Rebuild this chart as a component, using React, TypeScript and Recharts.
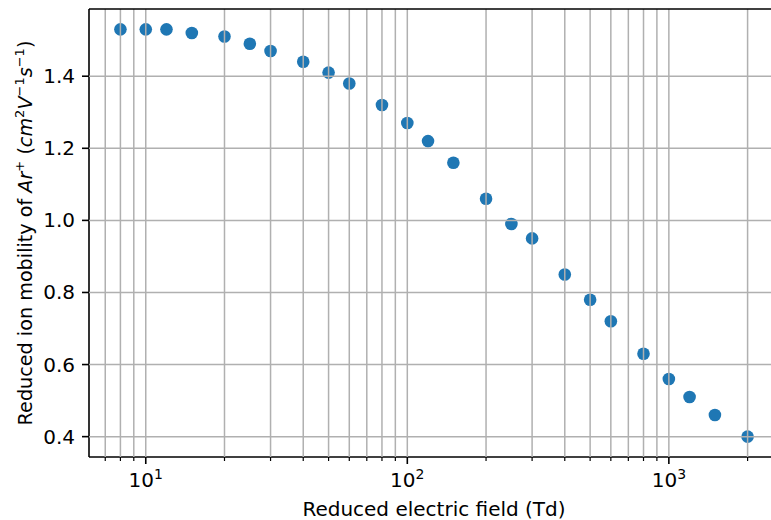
import React from 'react';
import { ScatterChart, Scatter, XAxis, YAxis, ReferenceLine } from 'recharts';

const fieldTd = [8, 10, 12, 15, 20, 25, 30, 40, 50, 60, 80, 100, 120, 150, 200, 250, 300, 400, 500, 600, 800, 1000, 1200, 1500, 2000];
const mobility = [1.53, 1.53, 1.53, 1.52, 1.51, 1.49, 1.47, 1.44, 1.41, 1.38, 1.32, 1.27, 1.22, 1.16, 1.06, 0.99, 0.95, 0.85, 0.78, 0.72, 0.63, 0.56, 0.51, 0.46, 0.4];

const xMajorTicks = [10, 100, 1000];
const xMinorTicks = [7, 8, 9, 20, 30, 40, 50, 60, 70, 80, 90, 200, 300, 400, 500, 600, 700, 800, 900, 2000];
const yTicks = [0.4, 0.6, 0.8, 1.0, 1.2, 1.4];
const xDomain = [6.067, 2637];
const yDomain = [0.3435, 1.5865];

const xLabel = 'Reduced electric field (Td)';

const points = fieldTd.map((x, i) => ({ x, y: mobility[i] }));
const xTicks = [...xMajorTicks, ...xMinorTicks].sort((a, b) => a - b);

const FONT = '"DejaVu Sans", sans-serif';
const GRID = '#b0b0b0';

function XTick(props: any) {
  const { x, y, payload } = props;
  const v = payload.value;
  const major = xMajorTicks.includes(v);
  const exp = Math.round(Math.log10(v));
  return (
    <g>
      <line x1={x} x2={x} y1={y} y2={y + (major ? 7 : 4)} stroke="#000" strokeWidth={major ? 1.6 : 1.2} />
      {major && (
        <text x={x} y={y + 30} textAnchor="middle" fontFamily={FONT} fontSize={20} fill="#000">
          <tspan>10</tspan>
          <tspan dy={-8} fontSize={14}>{exp}</tspan>
        </text>
      )}
    </g>
  );
}

function YTick(props: any) {
  const { x, y, payload } = props;
  return (
    <g>
      <line x1={x - 7} x2={x} y1={y} y2={y} stroke="#000" strokeWidth={1.6} />
      <text x={x - 14} y={y + 7} textAnchor="end" fontFamily={FONT} fontSize={20} fill="#000">
        {Number(payload.value).toFixed(1)}
      </text>
    </g>
  );
}

function XLabel(props: any) {
  const vb = props.viewBox || { x: 89, width: 690, y: 457 };
  return (
    <text x={vb.x + vb.width / 2} y={516} textAnchor="middle" fontFamily={FONT} fontSize={20} fill="#000">
      {xLabel}
    </text>
  );
}

function YLabel(props: any) {
  const vb = props.viewBox || { y: 9, height: 448 };
  const cx = 32;
  const cy = vb.y + vb.height / 2;
  return (
    <text x={cx} y={cy} transform={`rotate(-90 ${cx} ${cy})`} textAnchor="middle" fontFamily={FONT} fontSize={19.2} fill="#000">
      <tspan>Reduced ion mobility of </tspan>
      <tspan fontStyle="italic">Ar</tspan>
      <tspan fontSize={13} dy={-8}>+</tspan>
      <tspan dy={8}>{'\u00a0('}</tspan>
      <tspan fontStyle="italic">cm</tspan>
      <tspan fontSize={13} dy={-8}>2</tspan>
      <tspan fontStyle="italic" dy={8}>V</tspan>
      <tspan fontSize={13} dy={-8}>{'\u22121'}</tspan>
      <tspan fontStyle="italic" dy={8}>s</tspan>
      <tspan fontSize={13} dy={-8}>{'\u22121'}</tspan>
      <tspan dy={8}>)</tspan>
    </text>
  );
}

const Dot = (props: any) => <circle cx={props.cx} cy={props.cy} r={6.3} fill="#1f77b4" />;

export default function App() {
  return (
    <div style={{ position: 'absolute', left: 0, top: 0, width: 771, height: 520, overflow: 'hidden', background: '#fff' }}>
      <ScatterChart width={779} height={520} margin={{ top: 9, right: 0, bottom: 0, left: 0 }}>
        <XAxis
          dataKey="x"
          type="number"
          scale="log"
          domain={xDomain}
          allowDataOverflow
          ticks={xTicks}
          interval={0}
          tick={<XTick />}
          tickLine={false}
          tickSize={0}
          tickMargin={0}
          height={63}
          axisLine={{ stroke: '#000', strokeWidth: 1.6 }}
          label={<XLabel />}
        />
        <YAxis
          dataKey="y"
          type="number"
          domain={yDomain}
          allowDataOverflow
          ticks={yTicks}
          interval={0}
          tick={<YTick />}
          tickLine={false}
          tickSize={0}
          tickMargin={0}
          width={89}
          axisLine={{ stroke: '#000', strokeWidth: 1.6 }}
          label={<YLabel />}
        />
        <Scatter data={points} shape={<Dot />} isAnimationActive={false} />
        {xTicks.map((t) => (
          <ReferenceLine key={'gx' + t} x={t} stroke={GRID} strokeWidth={1.5} zIndex={700} />
        ))}
        {yTicks.map((t) => (
          <ReferenceLine key={'gy' + t} y={t} stroke={GRID} strokeWidth={1.5} zIndex={700} />
        ))}
        <ReferenceLine y={yDomain[1]} stroke="#000" strokeWidth={1.6} zIndex={800} />
      </ScatterChart>
    </div>
  );
}
